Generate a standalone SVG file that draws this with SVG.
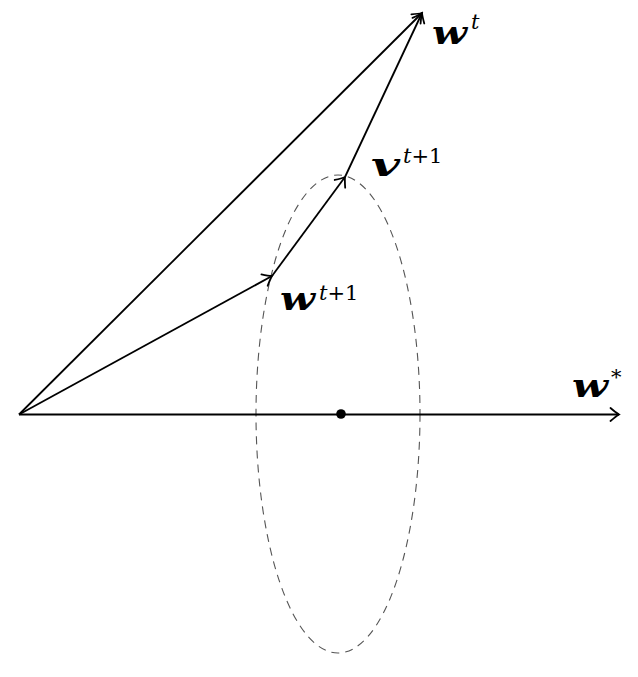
<svg xmlns="http://www.w3.org/2000/svg" width="638" height="677" viewBox="0 0 638 677">
<style>
.ln{stroke:#000;stroke-width:1.8;fill:none}
.lbl{font-family:"DejaVu Serif",serif;font-weight:bold;font-style:italic;font-size:32px;fill:#000}
.sup{font-family:"DejaVu Serif",serif;font-size:21px;fill:#000}
.it{font-style:italic}
</style>
<defs>
<marker id="arr" viewBox="-10 -8 12 16" markerWidth="12" markerHeight="16" refX="0" refY="0" orient="auto" markerUnits="userSpaceOnUse">
<path d="M-8.5,-6.5 Q-3,-1.8 0,0 Q-3,1.8 -8.5,6.5" stroke="#000" stroke-width="1.8" fill="none" stroke-linecap="round"/>
</marker>
</defs>
<rect width="638" height="677" fill="#fff"/>
<g id="ellipse">
<ellipse cx="338" cy="414" rx="82" ry="239" fill="none" stroke="#555" stroke-width="1.1" stroke-dasharray="8 6"/>
</g>
<g id="connectors">
<line class="ln" x1="19" y1="414.5" x2="619" y2="414.5" marker-end="url(#arr)"/>
<line class="ln" x1="19" y1="414.5" x2="422" y2="13" marker-end="url(#arr)"/>
<line class="ln" x1="345" y1="177" x2="422" y2="13" marker-end="url(#arr)"/>
<line class="ln" x1="19" y1="414.5" x2="272" y2="276" marker-end="url(#arr)"/>
<line class="ln" x1="272" y1="276" x2="345" y2="177" marker-end="url(#arr)"/>
</g>
<g id="center">
<circle cx="341" cy="414" r="4.8" fill="#000"/>
</g>
<g id="wt">
<text class="lbl" x="432" y="44" textLength="35" lengthAdjust="spacingAndGlyphs">w</text>
<text class="sup it" x="471" y="29">t</text>
</g>
<g id="vt1">
<text class="lbl" x="371" y="176" textLength="29" lengthAdjust="spacingAndGlyphs">v</text>
<text class="sup" x="403" y="163"><tspan class="it">t</tspan>+1</text>
</g>
<g id="wt1">
<text class="lbl" x="280" y="310" textLength="35" lengthAdjust="spacingAndGlyphs">w</text>
<text class="sup" x="319" y="300"><tspan class="it">t</tspan>+1</text>
</g>
<g id="wstar">
<text class="lbl" x="572" y="397" textLength="36" lengthAdjust="spacingAndGlyphs">w</text>
<text class="sup" x="611" y="384">*</text>
</g>
</svg>
